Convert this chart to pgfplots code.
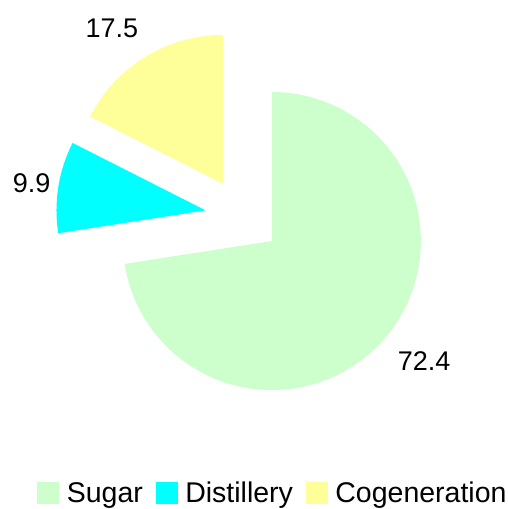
\documentclass[border=0pt]{standalone}
\usepackage{pgfplots}
\pgfplotsset{compat=1.18}
\usepackage{pgfplotstable}
\usepackage{fontspec}
\setmainfont{Liberation Sans}
\definecolor{sugarc}{HTML}{CCFFCC}
\definecolor{distc}{HTML}{00FFFF}
\definecolor{cogenc}{HTML}{FFFF99}

\pgfplotstableread{
name value
Sugar 72.4
Distillery 9.9
Cogeneration 17.5
}\piedata

\begin{document}
\begin{tikzpicture}
\pgfplotstablegetelem{0}{value}\of\piedata \let\va\pgfplotsretval
\pgfplotstablegetelem{1}{value}\of\piedata \let\vb\pgfplotsretval
\pgfplotstablegetelem{2}{value}\of\piedata \let\vc\pgfplotsretval
\pgfmathsetmacro{\tot}{\va+\vb+\vc}
\def\cx{243}\def\cy{292.7}\def\R{149}\def\ex{38}
\pgfmathsetmacro{\aA}{90}
\pgfmathsetmacro{\aB}{\aA-\va/\tot*360}
\pgfmathsetmacro{\aC}{\aB-\vb/\tot*360}
\pgfmathsetmacro{\aD}{\aC-\vc/\tot*360}
\pgfmathsetmacro{\mA}{(\aA+\aB)/2}
\pgfmathsetmacro{\mB}{(\aB+\aC)/2}
\pgfmathsetmacro{\mC}{(\aC+\aD)/2}
\pgfmathsetmacro{\pAx}{\cx+\ex*cos(\mA)}\pgfmathsetmacro{\pAy}{\cy+\ex*sin(\mA)}
\pgfmathsetmacro{\pBx}{\cx+\ex*cos(\mB)}\pgfmathsetmacro{\pBy}{\cy+\ex*sin(\mB)}
\pgfmathsetmacro{\pCx}{\cx+\ex*cos(\mC)}\pgfmathsetmacro{\pCy}{\cy+\ex*sin(\mC)}
% label centres: distance and small angular shift from each slice's middle
\pgfmathsetmacro{\lAx}{\pAx+194*cos(\mA+2.3)}\pgfmathsetmacro{\lAy}{\pAy+194*sin(\mA+2.3)}
\pgfmathsetmacro{\lBx}{\pBx+176*cos(\mB)}\pgfmathsetmacro{\lBy}{\pBy+176*sin(\mB)}
\pgfmathsetmacro{\lCx}{\pCx+191*cos(\mC+4.1)}\pgfmathsetmacro{\lCy}{\pCy+191*sin(\mC+4.1)}
\begin{axis}[name=ax,width=508pt,height=509pt,scale only axis,
  xmin=0,xmax=508,ymin=0,ymax=509,axis lines=none,clip=false,
  legend columns=3,
  legend style={at={(axis cs:272,5)},anchor=south,draw=none,fill=none,
    inner sep=0pt,outer sep=0pt,
    font=\fontsize{28.5}{34}\selectfont,
    nodes={inner sep=0pt},
    /tikz/every odd column/.append style={column sep=8pt},
    /tikz/every even column/.append style={column sep=13pt}},
  ]
\addlegendimage{legend image code/.code={\fill[sugarc] (0pt,-10.5pt) rectangle (21pt,10.5pt);}}
\addlegendentry{Sugar}
\addlegendimage{legend image code/.code={\fill[distc] (0pt,-10.5pt) rectangle (21pt,10.5pt);}}
\addlegendentry{Distillery}
\addlegendimage{legend image code/.code={\fill[cogenc] (0pt,-10.5pt) rectangle (21pt,10.5pt);}}
\addlegendentry{Cogeneration}
\fill[sugarc] (axis cs:\pAx,\pAy) -- ++(\aA:\R pt) arc[start angle=\aA,end angle=\aB,radius=\R pt] -- cycle;
\fill[distc] (axis cs:\pBx,\pBy) -- ++(\aB:\R pt) arc[start angle=\aB,end angle=\aC,radius=\R pt] -- cycle;
\fill[cogenc] (axis cs:\pCx,\pCy) -- ++(\aC:\R pt) arc[start angle=\aC,end angle=\aD,radius=\R pt] -- cycle;
\node[inner sep=0pt,font=\fontsize{27}{32}\selectfont] at (axis cs:\lAx,\lAy) {\pgfmathprintnumber[fixed,precision=1,assume math mode=true]{\va}};
\node[inner sep=0pt,font=\fontsize{27}{32}\selectfont] at (axis cs:\lBx,\lBy) {\pgfmathprintnumber[fixed,precision=1,assume math mode=true]{\vb}};
\node[inner sep=0pt,font=\fontsize{27}{32}\selectfont] at (axis cs:\lCx,\lCy) {\pgfmathprintnumber[fixed,precision=1,assume math mode=true]{\vc}};
\end{axis}
\pgfresetboundingbox
\path (ax.south west) rectangle (ax.north east);
\end{tikzpicture}
\end{document}
